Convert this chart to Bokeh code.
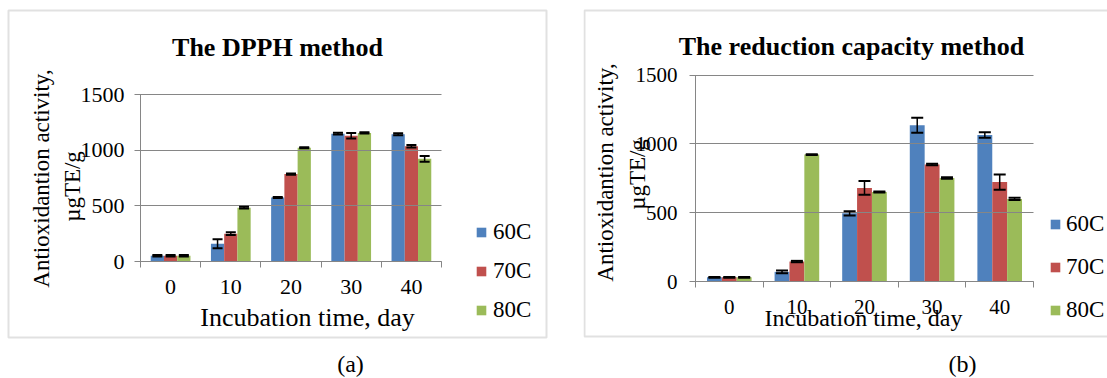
from math import pi
from bokeh.plotting import figure
from bokeh.models import (Range1d, FixedTicker, Label, Legend, LegendItem, Whisker, TeeHead,
                          ColumnDataSource, BoxAnnotation)
from bokeh.layouts import row
from bokeh.embed import file_html
from bokeh.resources import INLINE

# ---------------- data ----------------
days = ["0", "10", "20", "30", "40"]
series = ["60C", "70C", "80C"]
colors = ["#4F81BD", "#C0504D", "#9BBB59"]

dpph_60 = [52, 160, 575, 1148, 1143]
dpph_70 = [52, 250, 785, 1130, 1035]
dpph_80 = [52, 483, 1022, 1155, 922]
dpph_err_60 = [6, 40, 5, 8, 10]
dpph_err_70 = [6, 12, 5, 25, 12]
dpph_err_80 = [6, 8, 5, 5, 25]

red_60 = [30, 70, 495, 1135, 1065]
red_70 = [30, 145, 680, 850, 722]
red_80 = [30, 922, 650, 752, 600]
red_err_60 = [3, 10, 15, 55, 20]
red_err_70 = [3, 5, 50, 5, 55]
red_err_80 = [3, 3, 3, 5, 8]

y_ticks = [0, 500, 1000, 1500]

FONT = "Liberation Serif"
GRID = "#868686"
BORDER = "#9a9a9a"


def make_panel(title, caption, vals, errs, g):
    W, H = g["W"], g["H"]
    L, R, T, B = g["plot"]          # plot-area edges in canvas pixels
    n = len(days)
    x0, x1 = -0.5, n - 0.5
    y0, y1 = y_ticks[0], y_ticks[-1]
    sx = (R - L) / (x1 - x0)
    sy = (B - T) / (y1 - y0)
    p = figure(width=W, height=H, title=None,
               x_range=Range1d(x0 - L / sx, x1 + (W - R) / sx),
               y_range=Range1d(y0 - (H - B) / sy, y1 + T / sy),
               output_backend="svg", toolbar_location=None,
               min_border=0)
    p.outline_line_color = None
    p.border_fill_color = "white"
    p.background_fill_color = "white"
    p.xgrid.visible = False
    p.ygrid.visible = False

    # y axis drawn inside the frame at the left edge of the plot area
    ya = p.yaxis[0]
    ya.fixed_location = x0
    ya.bounds = (y0, y1)
    ya.ticker = FixedTicker(ticks=y_ticks)
    ya.axis_line_color = GRID
    ya.major_tick_line_color = GRID
    ya.major_tick_out = 6
    ya.major_tick_in = R - L          # ticks run across the plot as gridlines
    ya.minor_tick_line_color = None
    ya.major_label_standoff = g["ystand"]
    ya.major_label_text_font = FONT
    ya.major_label_text_font_size = g["tick_fs"]
    ya.major_label_text_color = "black"

    # x axis (labels at category centres, tick marks at boundaries)
    idx = list(range(n))
    xa = p.xaxis[0]
    xa.fixed_location = y0
    xa.bounds = (x0, x1)
    xa.ticker = FixedTicker(ticks=idx, minor_ticks=[i - 0.5 for i in idx] + [n - 0.5])
    xa.major_label_overrides = {i: d for i, d in zip(idx, days)}
    xa.major_tick_line_color = None
    xa.major_tick_out = 0
    xa.major_tick_in = 0
    xa.minor_tick_line_color = GRID
    xa.minor_tick_out = 6
    xa.minor_tick_in = 0
    xa.axis_line_color = GRID
    xa.major_label_standoff = 12
    xa.major_label_text_font = FONT
    xa.major_label_text_font_size = g["tick_fs"]
    xa.major_label_text_color = "black"

    width = 0.22
    offsets = [-width, 0, width]
    items = []
    for s, c, off, v, e in zip(series, colors, offsets, vals, errs):
        xs = [i + off for i in idx]
        src = ColumnDataSource(dict(x=xs, top=v,
                                    upper=[a + b for a, b in zip(v, e)],
                                    lower=[a - b for a, b in zip(v, e)]))
        r = p.vbar(x="x", top="top", width=width, bottom=0, source=src,
                   fill_color=c, line_color=None)
        w = Whisker(base="x", upper="upper", lower="lower", source=src, level="overlay",
                    line_color="black", line_width=1.5,
                    upper_head=TeeHead(size=g["cap"], line_width=2, line_color="black"),
                    lower_head=TeeHead(size=g["cap"], line_width=2, line_color="black"))
        p.add_layout(w)
        items.append(LegendItem(label=s, renderers=[r]))

    legend = Legend(items=items, location=g["leg_loc"], orientation="vertical",
                    glyph_width=12, glyph_height=12, label_height=12,
                    label_standoff=g["leg_so"],
                    spacing=g["leg_sp"], padding=0, margin=0, border_line_color=None,
                    background_fill_alpha=0, label_text_font=FONT,
                    label_text_font_size="23px", label_text_color="black")
    p.add_layout(legend, "center")

    # chart border
    bl, br, bt, bb = g["box"]
    p.add_layout(BoxAnnotation(left=bl, right=br, top=bt, bottom=bb,
                               left_units="screen", right_units="screen",
                               top_units="screen", bottom_units="screen",
                               fill_alpha=0, line_color=BORDER, line_width=2))

    def lab(text, pos, fs, **kw):
        p.add_layout(Label(x=pos[0], y=pos[1], x_units="screen", y_units="screen", text=text,
                           text_font=FONT, text_font_size=fs, text_color="black", **kw))

    lab(title, g["title"], "26px", text_font_style="bold",
        text_align="center", text_baseline="alphabetic")
    lab("Incubation time, day", g["xlab"], g["xlab_fs"],
        text_align="center", text_baseline="alphabetic")
    lab("Antioxidantion activity,", g["ylab1"], "23px",
        angle=pi / 2, text_align="center", text_baseline="middle")
    lab("\u00b5gTE/g", g["ylab2"], "23px",
        angle=pi / 2, text_align="center", text_baseline="middle")
    lab(caption, g["cap_pos"], "24px", text_align="center", text_baseline="alphabetic")
    return p


# positions in canvas pixels (x from left, label y from bottom)
geom_a = dict(W=583, H=378, plot=(140, 441, 94, 261), tick_fs="22px", cap=10, ystand=10,
              leg_loc=(475, 55), leg_sp=13, leg_so=6, box=(8, 546, 368, 41),
              title=(277, 331), xlab=(307, 61), xlab_fs="26px",
              ylab1=(41, 200), ylab2=(72, 192), cap_pos=(350, 15))
geom_b = dict(W=524, H=378, plot=(112, 450, 74.5, 281), tick_fs="21px", cap=12, ystand=12,
              leg_loc=(466, 55), leg_sp=17, leg_so=5, box=(1, 560, 368, 42),
              title=(268, 332), xlab=(280, 61), xlab_fs="24px",
              ylab1=(22, 206), ylab2=(54, 204), cap_pos=(379, 15))

pa = make_panel("The DPPH method", "(a)",
                [dpph_60, dpph_70, dpph_80], [dpph_err_60, dpph_err_70, dpph_err_80], geom_a)
pb = make_panel("The reduction capacity method", "(b)",
                [red_60, red_70, red_80], [red_err_60, red_err_70, red_err_80], geom_b)

layout = row(pa, pb, spacing=0)
open("out.html", "w").write(file_html(layout, INLINE))
